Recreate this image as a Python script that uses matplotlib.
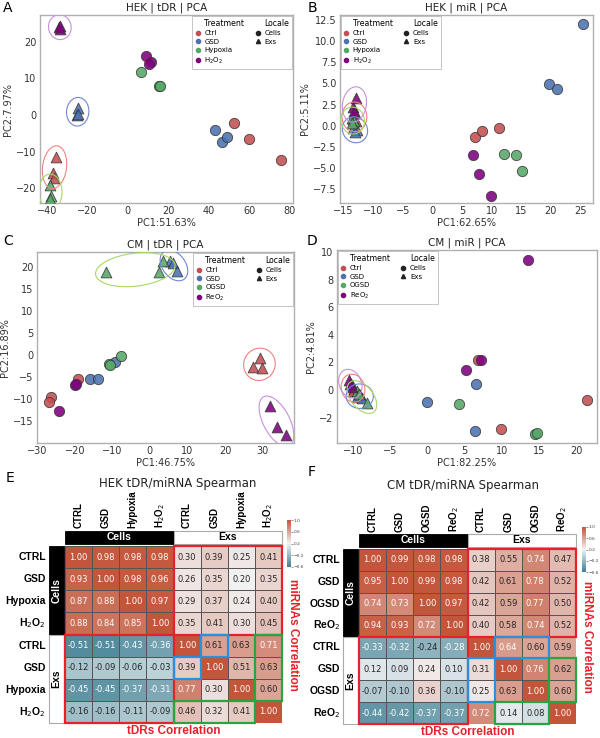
import numpy as np
import matplotlib
matplotlib.use('Agg')
import matplotlib.pyplot as plt
import seaborn as sns
from matplotlib.patches import Ellipse, Rectangle
from matplotlib.lines import Line2D
from matplotlib.transforms import IdentityTransform

# ---------------- data ----------------
hek_groups = ['Ctrl', 'GSD', 'Hypoxia', 'H$_2$O$_2$']
cm_groups = ['Ctrl', 'GSD', 'OGSD', 'ReO$_2$']

# A: HEK | tDR   (one list per treatment: Ctrl, GSD, Hypoxia, H2O2)
a_cells_x = [[52.3, 59.7, 75.6], [43.1, 46.4, 48.8], [6.6, 15.6, 15.8], [9.1, 11.3, 10.3]]
a_cells_y = [[-2.3, -6.6, -12.4], [-4.1, -7.3, -6.1], [11.8, 7.9, 8.0], [16.1, 14.5, 13.9]]
a_exs_x = [[-35.3, -37.0, -36.3], [-24.6, -24.9, -24.7], [-38.3, -37.8, -38.3], [-33.7, -33.3, -33.5]]
a_exs_y = [[-11.4, -15.9, -17.1], [1.8, 0.0, 0.3], [-19.1, -22.1, -22.8], [24.1, 23.6, 24.4]]

# B: HEK | miR
b_cells_x = [[7.2, 8.3, 11.3], [25.4, 19.7, 21.1], [12.0, 14.1, 15.2], [6.9, 7.9, 9.85]]
b_cells_y = [[-1.3, -0.6, -0.3], [12.0, 4.9, 4.3], [-3.3, -3.5, -5.4], [-3.5, -5.7, -8.3]]
b_exs_x = [[-13.1, -12.9, -13.4], [-12.8, -13.4, -13.0], [-13.6, -13.3, -13.5], [-12.9, -13.4, -13.2]]
b_exs_y = [[1.5, 0.6, 0.8], [-0.5, -0.3, -0.8], [0.9, 0.5, 0.3], [3.3, 2.2, 1.7]]

# C: CM | tDR   (Ctrl, GSD, OGSD, ReO2)
c_cells_x = [[-26.4, -27.0, -19.3], [-16.0, -13.9, -9.3], [-10.9, -7.8, -10.6], [-24.2, -20.0, -19.7]]
c_cells_y = [[-9.6, -10.7, -5.5], [-5.4, -5.4, -1.5], [-2.1, -0.15, -2.3], [-12.7, -6.8, -6.6]]
c_exs_x = [[29.3, 27.4, 30.0], [5.3, 6.2, 7.3], [-11.6, 2.5, 3.6], [32.0, 33.8, 36.3]]
c_exs_y = [[-0.75, -2.6, -3.0], [21.3, 20.7, 19.1], [18.7, 18.7, 21.3], [-11.5, -16.2, -18.1]]

# D: CM | miR
d_cells_x = [[6.8, 21.5, 9.9], [6.45, -0.15, 6.35], [4.25, 14.4, 14.7], [13.5, 7.25, 5.2]]
d_cells_y = [[2.2, -0.75, -2.8], [0.45, -0.85, -2.97], [-1.0, -3.2, -3.1], [9.4, 2.2, 1.45]]
d_exs_x = [[-10.2, -9.9, -10.0], [-9.05, -9.5, -8.8], [-9.5, -8.15, -9.2], [-10.6, -10.2, -10.4]]
d_exs_y = [[0.35, 0.05, -0.1], [-0.36, -0.5, -0.55], [-0.05, -0.96, -0.3], [0.72, 0.2, 0.45]]

# E / F: Spearman correlation matrices (rows/cols: Cells x4, Exs x4)
hek_labels = ['CTRL', 'GSD', 'Hypoxia', 'H$_2$O$_2$']
cm_labels = ['CTRL', 'GSD', 'OGSD', 'ReO$_2$']
hek_corr = np.array([
    [1.00, 0.98, 0.98, 0.98, 0.30, 0.39, 0.25, 0.41],
    [0.93, 1.00, 0.98, 0.96, 0.26, 0.35, 0.20, 0.35],
    [0.87, 0.88, 1.00, 0.97, 0.29, 0.37, 0.24, 0.40],
    [0.88, 0.84, 0.85, 1.00, 0.35, 0.41, 0.30, 0.45],
    [-0.51, -0.51, -0.43, -0.36, 1.00, 0.61, 0.63, 0.71],
    [-0.12, -0.09, -0.06, -0.03, 0.39, 1.00, 0.51, 0.63],
    [-0.45, -0.45, -0.37, -0.31, 0.77, 0.30, 1.00, 0.60],
    [-0.16, -0.16, -0.11, -0.09, 0.46, 0.32, 0.41, 1.00],
])
cm_corr = np.array([
    [1.00, 0.99, 0.98, 0.98, 0.38, 0.55, 0.74, 0.47],
    [0.95, 1.00, 0.99, 0.98, 0.42, 0.61, 0.78, 0.52],
    [0.74, 0.73, 1.00, 0.97, 0.42, 0.59, 0.77, 0.50],
    [0.94, 0.93, 0.72, 1.00, 0.40, 0.58, 0.74, 0.52],
    [-0.33, -0.32, -0.24, -0.28, 1.00, 0.64, 0.60, 0.59],
    [0.12, 0.09, 0.24, 0.10, 0.31, 1.00, 0.76, 0.62],
    [-0.07, -0.10, 0.36, -0.10, 0.25, 0.63, 1.00, 0.60],
    [-0.44, -0.42, -0.37, -0.37, 0.72, 0.14, 0.08, 1.00],
])

colors = ['#c44e52', '#4c72b0', '#55a868', '#800080']
ring_colors = ['#f28080', '#6f86d6', '#a8d860', '#c890dc']

W, H = 600, 738
fig = plt.figure(figsize=(6, 7.38), dpi=100)


def px_rect(l, t, r, b):
    return [l / W, 1 - b / H, (r - l) / W, (b - t) / H]


def group_ellipse(ax, xs, ys, color, pad=11):
    # ring drawn in pixel space around a group of points
    pts = ax.transData.transform(np.column_stack([xs, ys]))
    c = pts.mean(axis=0)
    d = pts - c
    if np.allclose(d, 0):
        u = np.array([1.0, 0.0])
    else:
        u = np.linalg.svd(d)[2][0]
    v = np.array([-u[1], u[0]])
    pu, pv = d @ u, d @ v
    center = c + (pu.max() + pu.min()) / 2 * u + (pv.max() + pv.min()) / 2 * v
    w = pu.max() - pu.min() + 2 * pad
    h = pv.max() - pv.min() + 2 * pad
    ang = np.degrees(np.arctan2(u[1], u[0]))
    e = Ellipse(center, w, h, angle=ang, transform=IdentityTransform(),
                fill=False, ec=color, lw=0.8, zorder=4)
    ax.add_artist(e)


def pca_panel(rect, cx, cy, ex, ey, groups, title, xlabel, ylabel,
              xlim, ylim, xticks, yticks, loc):
    ax = fig.add_axes(rect)
    ax.set_xlim(*xlim)
    ax.set_ylim(*ylim)
    for i in range(4):
        ax.scatter(cx[i], cy[i], s=55, marker='o', color=colors[i], alpha=0.88,
                   edgecolor='#333333', linewidth=0.6, zorder=3)
        ax.scatter(ex[i], ey[i], s=60, marker='^', color=colors[i], alpha=0.88,
                   edgecolor='#333333', linewidth=0.6, zorder=3)
    for i in range(4):
        group_ellipse(ax, ex[i], ey[i], ring_colors[i])
    ax.set_xticks(xticks)
    ax.set_yticks(yticks)
    ax.tick_params(length=0, labelsize=7, labelcolor='#333333', pad=2.5)
    for s in ax.spines.values():
        s.set_color('#b0b0b0')
        s.set_linewidth(1.0)
    ax.set_title(title, fontsize=7.5, pad=3, color='#222222')
    ax.set_xlabel(xlabel, fontsize=7, labelpad=1, color='#333333')
    ax.set_ylabel(ylabel, fontsize=7, labelpad=2, color='#333333')

    blank = Line2D([], [], ls='', marker='')
    handles = [blank] + [Line2D([], [], ls='', marker='o', ms=3, color=c) for c in colors]
    handles += [blank, Line2D([], [], ls='', marker='o', ms=3, color='#222222'),
                Line2D([], [], ls='', marker='^', ms=3, color='#222222'), blank, blank]
    labels = ['Treatment'] + groups + ['Locale', 'Cells', 'Exs', '', '']
    leg = ax.legend(handles, labels, ncol=2, loc=loc, fontsize=5, frameon=True,
                    fancybox=False, edgecolor='#aaaaaa', handlelength=0.7,
                    handletextpad=0.6, columnspacing=1.6, borderpad=0.4,
                    labelspacing=0.35, borderaxespad=0.15)
    leg.get_frame().set_linewidth(0.6)
    for t in leg.get_texts():
        if t.get_text() in ('Treatment', 'Locale'):
            t.set_fontsize(5.6)
    return ax


pca_panel(px_rect(40, 15, 293, 203), a_cells_x, a_cells_y, a_exs_x, a_exs_y, hek_groups,
          'HEK | tDR | PCA', 'PC1:51.63%', 'PC2:7.97%', (-43.3, 81.5), (-24.0, 27.3),
          [-40, -20, 0, 20, 40, 60, 80], [-20, -10, 0, 10, 20], 'upper right')
pca_panel(px_rect(340, 15, 593, 203), b_cells_x, b_cells_y, b_exs_x, b_exs_y, hek_groups,
          'HEK | miR | PCA', 'PC1:62.65%', 'PC2:5.11%', (-15.6, 27.1), (-9.15, 13.1),
          [-15, -10, -5, 0, 5, 10, 15, 20, 25], [-7.5, -5, -2.5, 0, 2.5, 5, 7.5, 10, 12.5], 'upper left')
pca_panel(px_rect(37, 252, 294, 443), c_cells_x, c_cells_y, c_exs_x, c_exs_y, cm_groups,
          'CM | tDR | PCA', 'PC1:46.75%', 'PC2:16.89%', (-30.1, 38.4), (-19.9, 23.3),
          [-30, -20, -10, 0, 10, 20, 30], [-15, -10, -5, 0, 5, 10, 15, 20], 'upper right')
pca_panel(px_rect(337, 250, 597, 443), d_cells_x, d_cells_y, d_exs_x, d_exs_y, cm_groups,
          'CM | miR | PCA', 'PC1:82.25%', 'PC2:4.81%', (-12.2, 22.8), (-3.84, 10.15),
          [-10, -5, 0, 5, 10, 15, 20], [-2, 0, 2, 4, 6, 8, 10], 'upper left')

cmap = sns.diverging_palette(220, 20, as_cmap=True)
RED = '#e8202a'
BLUE = '#2a8fdc'
GREEN = '#27a640'
bold = dict(family='Liberation Sans', fontweight='bold')


def corr_panel(rect, cbar_rect, mat, names, title, title_xy, blue_boxes, green_boxes):
    ax = fig.add_axes(rect)
    cax = fig.add_axes(cbar_rect)
    sns.heatmap(mat, ax=ax, cbar_ax=cax, cmap=cmap, vmin=-0.6, vmax=1.0,
                annot=True, fmt='.2f', annot_kws={'size': 6},
                linewidths=0.4, linecolor='#555555',
                xticklabels=False, yticklabels=False)
    cax.set_yticks([-0.6, -0.2, 0.2, 0.6, 1.0])
    cax.tick_params(labelsize=3.2, length=1.2, width=0.4, pad=0.5, colors='#444444')
    # header bars
    ax.add_patch(Rectangle((0, -0.68), 4, 0.58, fc='black', ec='black', lw=0.6, clip_on=False))
    ax.add_patch(Rectangle((4, -0.68), 4, 0.58, fc='white', ec='#aaaaaa', lw=0.8, clip_on=False))
    ax.text(2, -0.39, 'Cells', color='white', ha='center', va='center', fontsize=7.5, **bold)
    ax.text(6, -0.39, 'Exs', color='black', ha='center', va='center', fontsize=7.5, **bold)
    ax.add_patch(Rectangle((-0.6, 0), 0.56, 4, fc='black', ec='black', lw=0.6, clip_on=False))
    ax.add_patch(Rectangle((-0.6, 4), 0.56, 4, fc='white', ec='#aaaaaa', lw=0.8, clip_on=False))
    ax.text(-0.32, 2, 'Cells', color='white', ha='center', va='center', rotation=90, fontsize=7.5, **bold)
    ax.text(-0.32, 6, 'Exs', color='black', ha='center', va='center', rotation=90, fontsize=7.5, **bold)
    for k in range(8):
        ax.text(k + 0.5, -0.8, names[k % 4], rotation=90, ha='center', va='bottom',
                fontsize=7, **bold)
        ax.text(-0.7, k + 0.5, names[k % 4], ha='right', va='center', fontsize=7.5, **bold)
    for (x0, y0, w, h), col in ([((4, 0, 4, 4)), RED], [((0, 4, 4, 4)), RED]):
        ax.add_patch(Rectangle((x0, y0), w, h, fill=False, ec=col, lw=1.6, clip_on=False, zorder=5))
    for (x0, y0, w, h) in blue_boxes:
        ax.add_patch(Rectangle((x0, y0), w, h, fill=False, ec=BLUE, lw=1.6, clip_on=False, zorder=6))
    for (x0, y0, w, h) in green_boxes:
        ax.add_patch(Rectangle((x0, y0), w, h, fill=False, ec=GREEN, lw=1.6, clip_on=False, zorder=6))
    ax.text(8.42, 4, 'miRNAs Correlation', rotation=270, ha='center', va='center',
            color=RED, fontsize=8.5, **bold)
    ax.text(4, 8.36, 'tDRs Correlation', ha='center', va='center', color=RED, fontsize=8.5, **bold)
    fig.text(title_xy[0] / W, 1 - title_xy[1] / H, title, ha='center', va='center',
             fontsize=8.5, color='#222222')
    return ax


corr_panel(px_rect(65, 546, 282, 723), px_rect(287, 520, 291, 567), hek_corr, hek_labels,
           'HEK tDR/miRNA Spearman', (178, 483),
           [(5, 4, 1, 1), (4, 5, 1, 1)], [(7, 4, 1, 3), (4, 7, 3, 1)])
corr_panel(px_rect(359, 549, 576, 724), px_rect(582, 527, 586, 572), cm_corr, cm_labels,
           'CM tDR/miRNA Spearman', (463, 485),
           [(5, 4, 2, 1), (4, 5, 1, 2)], [(7, 5, 1, 2), (5, 7, 2, 1)])

for letter, (x, y) in zip('ABCDEF', [(8, 8), (312, 8), (8, 241), (312, 241), (10, 478), (312, 472)]):
    fig.text(x / W, 1 - y / H, letter, fontsize=10, ha='center', va='center')

fig.savefig('out.png', dpi=100)
